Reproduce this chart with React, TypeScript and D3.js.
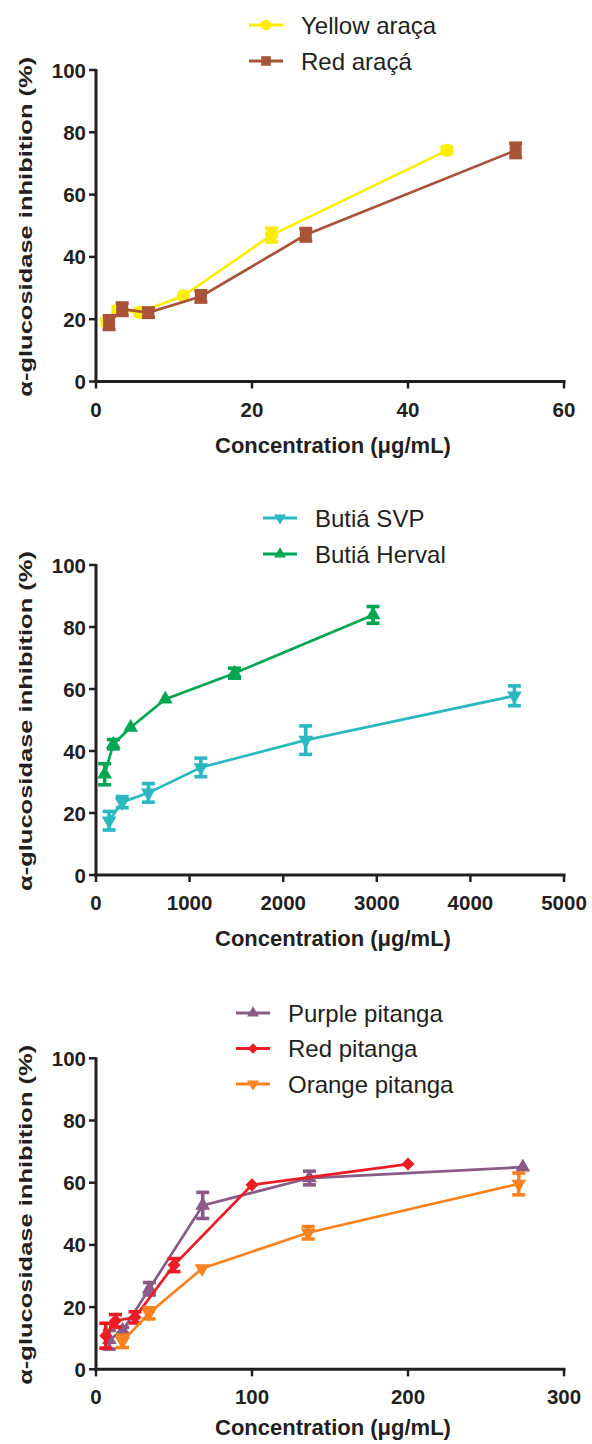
import React from "react";
import * as d3 from "d3";

// ---------- Panel A: araçá ----------
const yellowArX = [1.4, 2.8, 5.6, 11.2, 22.5, 45];
const yellowArY = [19, 23, 22.2, 27.5, 47, 74.2];
const yellowArErr = [1, 1, 1, 0.8, 2.2, 1];
const redArX = [1.68, 3.36, 6.72, 13.45, 26.9, 53.8];
const redArY = [18.9, 23.2, 22.1, 27.3, 47.1, 74.2];
const redArErr = [2.2, 2, 1.5, 1.8, 2, 2.3];
const panelAXTicks = [0, 20, 40, 60];

// ---------- Panel B: butiá ----------
const butiaSvpX = [140, 280, 560, 1120, 2240, 4470];
const butiaSvpY = [17.5, 23.5, 26.5, 34.7, 43.5, 57.8];
const butiaSvpErr = [3, 1.8, 3, 3, 4.6, 3.2];
const butiaHervalX = [92.6, 185, 370, 740, 1480, 2960];
const butiaHervalY = [32.5, 42.2, 47.6, 56.7, 65.1, 83.9];
const butiaHervalErr = [3.4, 1.5, 0.5, 0.5, 1.6, 2.7];
const panelBXTicks = [0, 1000, 2000, 3000, 4000, 5000];

// ---------- Panel C: pitanga ----------
const purplePitX = [8.55, 17.1, 34.2, 68.4, 136.8, 273.6];
const purplePitY = [9.5, 12.5, 25.9, 52.7, 61.5, 65];
const purplePitErr = [3, 1, 2, 4.2, 2.2, 0.5];
const redPitX = [6.25, 12.5, 25, 50, 100, 200];
const redPitY = [10.8, 15.6, 16.7, 33.5, 59.3, 66];
const redPitErr = [4, 2, 1.8, 2.1, 0.5, 0.5];
const orangePitX = [17, 34, 68, 136, 271];
const orangePitY = [9, 18, 32.4, 43.9, 59.6];
const orangePitErr = [2, 1.8, 0.5, 2, 3.5];
const panelCXTicks = [0, 100, 200, 300];

const yTicks = [0, 20, 40, 60, 80, 100];

const INK = "#231f20";
const FONT = "'Liberation Sans', Arial, Helvetica, sans-serif";

type Shape = "circle" | "square" | "triUp" | "triDown" | "diamond";

interface Series {
  name: string;
  color: string;
  shape: Shape;
  x: number[];
  y: number[];
  err: number[];
}

function symbolPath(shape: Shape, scale = 1): string {
  const s = scale;
  switch (shape) {
    case "circle":
      return d3.symbol(d3.symbolCircle, 135 * s * s)()!;
    case "square":
      return d3.symbol(d3.symbolSquare, 144 * s * s)()!;
    case "triUp":
      return d3.symbol(d3.symbolTriangle, 95 * s * s)()!;
    case "triDown":
      return d3.symbol(d3.symbolTriangle, 95 * s * s)()!;
    case "diamond":
      return d3.symbol(d3.symbolSquare, 85 * s * s)()!;
  }
}
function symbolRotate(shape: Shape): number {
  if (shape === "triDown") return 180;
  if (shape === "diamond") return 45;
  return 0;
}

interface PanelProps {
  top: number;
  bottom: number;
  xMax: number;
  xTicks: number[];
  series: Series[];
  legendX: number;
  legendY: number[];
  labelOffset: number;
}

const X0 = 96;
const X1 = 564;

function Panel({ top, bottom, xMax, xTicks, series, legendX, legendY, labelOffset }: PanelProps) {
  const x = d3.scaleLinear().domain([0, xMax]).range([X0, X1]);
  const y = d3.scaleLinear().domain([0, 100]).range([bottom, top]);
  const line = d3
    .line<[number, number]>()
    .x((d) => x(d[0]))
    .y((d) => y(d[1]));
  const midY = (top + bottom) / 2;
  return (
    <g>
      {series.map((s, i) => (
        <g key={"lg" + i}>
          <line
            x1={legendX - 17}
            x2={legendX + 17}
            y1={legendY[i]}
            y2={legendY[i]}
            stroke={s.color}
            strokeWidth={3}
          />
          <path
            d={symbolPath(s.shape, 0.8)}
            transform={`translate(${legendX},${legendY[i]}) rotate(${symbolRotate(s.shape)})`}
            fill={s.color}
          />
          <text
            x={legendX + 35}
            y={legendY[i] + 8.5}
            fontFamily={FONT}
            fontSize={24}
            fill={INK}
          >
            {s.name}
          </text>
        </g>
      ))}

      {series.map((s, i) => {
        const pts = s.x.map((v, j) => [v, s.y[j]] as [number, number]);
        return (
          <g key={"s" + i}>
            <path d={line(pts)!} fill="none" stroke={s.color} strokeWidth={2.7} />
            {pts.map((p, j) =>
              s.err[j] >= 1 ? (
                <g key={"e" + j} stroke={s.color} strokeWidth={3.6}>
                  <line x1={x(p[0])} x2={x(p[0])} y1={y(p[1] - s.err[j])} y2={y(p[1] + s.err[j])} />
                  <line x1={x(p[0]) - 6.5} x2={x(p[0]) + 6.5} y1={y(p[1] - s.err[j])} y2={y(p[1] - s.err[j])} />
                  <line x1={x(p[0]) - 6.5} x2={x(p[0]) + 6.5} y1={y(p[1] + s.err[j])} y2={y(p[1] + s.err[j])} />
                </g>
              ) : null
            )}
            {pts.map((p, j) => (
              <path
                key={"m" + j}
                d={symbolPath(s.shape)}
                transform={`translate(${x(p[0])},${y(p[1])}) rotate(${symbolRotate(s.shape)})`}
                fill={s.color}
              />
            ))}
          </g>
        );
      })}

      <line x1={X0} x2={X0} y1={top - 1} y2={bottom + 1.5} stroke={INK} strokeWidth={3} />
      <line x1={X0 - 1.5} x2={X1 + 1.5} y1={bottom} y2={bottom} stroke={INK} strokeWidth={3} />
      {yTicks.map((t) => (
        <g key={"yt" + t}>
          <line x1={X0 - 7} x2={X0} y1={y(t)} y2={y(t)} stroke={INK} strokeWidth={2.5} />
          <text
            x={X0 - 10}
            y={y(t) + 7.5}
            textAnchor="end"
            fontFamily={FONT}
            fontWeight="bold"
            fontSize={20.5}
            fill={INK}
          >
            {t}
          </text>
        </g>
      ))}
      {xTicks.map((t) => (
        <g key={"xt" + t}>
          <line x1={x(t)} x2={x(t)} y1={bottom} y2={bottom + 7} stroke={INK} strokeWidth={2.5} />
          <text
            x={x(t)}
            y={bottom + 35}
            textAnchor="middle"
            fontFamily={FONT}
            fontWeight="bold"
            fontSize={20.5}
            fill={INK}
          >
            {t}
          </text>
        </g>
      ))}
      <text
        transform={`translate(32,${midY + 1}) rotate(-90)`}
        textAnchor="middle"
        fontFamily={FONT}
        fontWeight="bold"
        fontSize={19}
        textLength={340}
        lengthAdjust="spacingAndGlyphs"
        fill={INK}
      >
        α-glucosidase inhibition (%)
      </text>
      <text
        x={(X0 + X1) / 2 + 3}
        y={bottom + labelOffset}
        textAnchor="middle"
        fontFamily={FONT}
        fontWeight="bold"
        fontSize={22}
        fill={INK}
      >
        Concentration (μg/mL)
      </text>
    </g>
  );
}

export default function App() {
  const seriesA: Series[] = [
    { name: "Yellow araça", color: "#ffed00", shape: "circle", x: yellowArX, y: yellowArY, err: yellowArErr },
    { name: "Red araçá", color: "#a8533a", shape: "square", x: redArX, y: redArY, err: redArErr },
  ];
  const seriesB: Series[] = [
    { name: "Butiá SVP", color: "#2bb8c2", shape: "triDown", x: butiaSvpX, y: butiaSvpY, err: butiaSvpErr },
    { name: "Butiá Herval", color: "#00a651", shape: "triUp", x: butiaHervalX, y: butiaHervalY, err: butiaHervalErr },
  ];
  const seriesC: Series[] = [
    { name: "Purple pitanga", color: "#8c5a86", shape: "triUp", x: purplePitX, y: purplePitY, err: purplePitErr },
    { name: "Red pitanga", color: "#ed1c24", shape: "diamond", x: redPitX, y: redPitY, err: redPitErr },
    { name: "Orange pitanga", color: "#f7821f", shape: "triDown", x: orangePitX, y: orangePitY, err: orangePitErr },
  ];
  return (
    <svg
      width={592}
      height={1444}
      style={{ position: "absolute", left: 0, top: 0, background: "#fff" }}
    >
      <Panel top={70} bottom={381.5} xMax={60} xTicks={panelAXTicks} series={seriesA} legendX={266} legendY={[25, 61]} labelOffset={71} />
      <Panel top={565} bottom={875} xMax={5000} xTicks={panelBXTicks} series={seriesB} legendX={280} legendY={[518, 554]} labelOffset={71} />
      <Panel top={1058.3} bottom={1369.3} xMax={300} xTicks={panelCXTicks} series={seriesC} legendX={253} legendY={[1013, 1048.5, 1084]} labelOffset={66} />
    </svg>
  );
}
